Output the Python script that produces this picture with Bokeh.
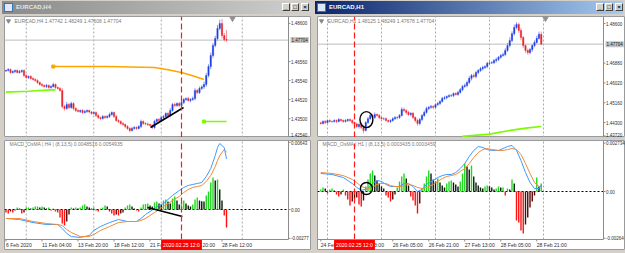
import numpy as np
from bokeh.plotting import figure
from bokeh.layouts import row, column
from bokeh.models import Div, Range1d, Label, ColumnDataSource
from bokeh.embed import file_html
from bokeh.resources import INLINE

FONT = "Liberation Sans"

# ======================= DATA : EURCAD,H4 (left window) =======================
h4_first_open = 1.4605
h4_close = [
    1.4608, 1.4613, 1.4597, 1.4602, 1.4608, 1.4597, 1.4602, 1.4608, 1.4581, 1.4570,
    1.4576, 1.4565, 1.4560, 1.4554, 1.4544, 1.4533, 1.4528, 1.4522, 1.4528, 1.4517,
    1.4522, 1.4533, 1.4517, 1.4512, 1.4501, 1.4415, 1.4405, 1.4426, 1.4410, 1.4431,
    1.4405, 1.4394, 1.4389, 1.4394, 1.4383, 1.4389, 1.4394, 1.4386, 1.4378, 1.4383,
    1.4367, 1.4356, 1.4351, 1.4362, 1.4356, 1.4362, 1.4372, 1.4383, 1.4362, 1.4340,
    1.4335, 1.4324, 1.4319, 1.4308, 1.4298, 1.4287, 1.4298, 1.4303, 1.4298, 1.4308,
    1.4335, 1.4324, 1.4322, 1.4319, 1.4314, 1.4303, 1.4335, 1.4346, 1.4340, 1.4356,
    1.4362, 1.4378, 1.4367, 1.4394, 1.4426, 1.4421, 1.4431, 1.4421, 1.4437, 1.4453,
    1.4458, 1.4447, 1.4453, 1.4458, 1.4501, 1.4490, 1.4512, 1.4520, 1.4533, 1.4581,
    1.4629, 1.4688, 1.4742, 1.4779, 1.4833, 1.4859, 1.4795, 1.4774, 1.4770]
h4_wick_up_pips = [
    5, 8, 6, 7, 5, 6, 9, 5, 7, 6,
    5, 8, 7, 6, 7, 5, 9, 6, 8, 5,
    7, 10, 6, 5, 8, 12, 9, 14, 8, 10,
    7, 6, 9, 5, 7, 8, 6, 6, 5, 7,
    6, 9, 5, 8, 6, 7, 10, 6, 5, 9,
    7, 6, 8, 5, 7, 6, 9, 8, 6, 7,
    10, 6, 7, 8, 5, 7, 9, 6, 8, 10,
    7, 6, 9, 12, 8, 10, 7, 9, 11, 8,
    6, 9, 7, 10, 12, 8, 10, 9, 15, 14,
    12, 16, 13, 15, 18, 20, 25, 14, 51]
h4_wick_dn_pips = [
    6, 5, 7, 6, 8, 5, 6, 7, 9, 6,
    7, 5, 6, 6, 8, 6, 7, 5, 9, 6,
    7, 5, 8, 6, 7, 10, 12, 8, 9, 7,
    10, 8, 6, 9, 7, 5, 8, 7, 6, 7,
    9, 8, 9, 6, 7, 5, 8, 6, 9, 7,
    8, 6, 7, 9, 8, 10, 6, 7, 8, 6,
    9, 7, 8, 8, 6, 9, 7, 6, 8, 7,
    9, 6, 8, 10, 7, 9, 8, 10, 7, 9,
    8, 6, 9, 8, 10, 9, 8, 9, 10, 12,
    10, 14, 12, 10, 12, 10, 15, 12, 9]
h4_osma_e4 = [
    -2.9, -3.8, -1.9, -2.9, -1.0, 1.9, 1.0, -3.8, -2.9, 1.9,
    1.9, 1.0, 1.9, 2.9, 2.9, 1.9, 2.9, 1.9, 1.0, 1.9,
    -1.0, 1.0, -1.9, -2.9, -7.7, -13.4, -15.3, -11.5, -4.8, 1.9,
    1.0, 1.9, 1.0, 1.9, 3.8, 4.8, 2.9, 1.9, 1.0, 1.9,
    -1.0, -1.9, 1.0, 1.9, 3.8, 2.9, -1.9, -3.8, -5.7, -4.8,
    -5.7, -3.8, -2.9, 1.9, 3.8, 4.8, 2.9, 1.0, -1.0, -1.9,
    1.9, 4.8, 5.2, 5.7, 3.8, 2.9, 6.7, 7.7, 5.7, 4.8,
    8.6, 9.6, 7.7, 5.7, 10.5, 12.5, 8.6, 4.8, 6.7, 8.6,
    5.7, 3.8, 2.9, 4.8, 9.6, 11.5, 8.6, 8.0, 7.7, 13.4,
    17.2, 25.9, 30.7, 27.8, 28.7, 19.2, 8.6, -5.7, -17.2]
h4_macd_bar = [0, 6, 12, 18, 23, 25, 27, 29, 33, 37, 39, 42, 46, 50, 54, 58, 60, 62, 64, 66,
               68, 70, 72, 74, 77, 79, 81, 83, 85, 87, 89, 91, 93, 94, 95, 97, 98]
h4_macd_e4 = [-8.6, -9.6, -12.5, -14.4, -14.4, -18.2, -23.0, -25.9, -26.8, -24.9, -20.1, -16.3,
              -12.5, -9.6, -11.5, -11.5, -8.6, -4.8, -1.9, 1.0, 3.8, 5.7, 9.6, 13.4, 18.2, 21.1,
              23.0, 24.0, 24.9, 25.9, 31.6, 39.3, 51.7, 59.4, 63.2, 59.4, 48.5]
h4_signal_e4 = [-8.6, -8.6, -11.5, -13.4, -14.4, -15.3, -19.2, -22.0, -25.9, -25.9, -24.0, -20.1,
                -16.3, -12.5, -11.5, -11.5, -10.5, -8.6, -5.7, -2.9, 0.0, 2.9, 5.7, 8.6, 12.5, 16.3,
                19.2, 21.1, 22.0, 23.0, 26.8, 32.6, 41.2, 46.9, 51.7, 57.5, 54.9]
h4_ma_bar = [21, 45, 66, 72, 78, 83, 88]
h4_ma_price = [1.4629, 1.4629, 1.4624, 1.4612, 1.4597, 1.4580, 1.4560]
h4_green_bar = [0, 10, 20, 22]
h4_green_price = [1.4492, 1.4497, 1.4504, 1.4504]
h4_green2_bar = [88, 98]
h4_green2_price = [1.4335, 1.4335]
h4_trend_bar = [64.2, 78.9]
h4_trend_price = [1.4303, 1.4410]
h4_osc_trend_bar = [62.9, 78.4]
h4_osc_trend_e4 = [1.9, -6.7]
h4_time_labels = ["6 Feb 2020", "11 Feb 04:00", "13 Feb 20:00", "18 Feb 12:00", "21 Fe", "20:00", "28 Feb 12:00"]
h4_time_label_bar = [0, 16, 32, 48, 64, 87.3, 96]
h4_time_tick_bar = [0, 16, 32, 48, 64, 80, 96]
h4_grid_bar = [9, 39, 69, 105]
h4_price_ticks = [1.48600, 1.46560, 1.45540, 1.44520, 1.43500, 1.42540]
h4_osc_ticks = [0.00643, 0.0, -0.00277]
h4_osc_tick_text = ["0.00643", "0.00", "-0.00277"]

# ======================= DATA : EURCAD,H1 (right window) =======================
h1_first_open = 1.4429
h1_close = [
    1.4426, 1.4435, 1.4430, 1.4439, 1.4435, 1.4435, 1.4439, 1.4435, 1.4443, 1.4439,
    1.4435, 1.4439, 1.4443, 1.4439, 1.4430, 1.4424, 1.4413, 1.4422, 1.4409, 1.4396,
    1.4430, 1.4447, 1.4461, 1.4452, 1.4465, 1.4461, 1.4452, 1.4447, 1.4447, 1.4439,
    1.4435, 1.4439, 1.4447, 1.4452, 1.4452, 1.4461, 1.4487, 1.4482, 1.4474, 1.4465,
    1.4470, 1.4452, 1.4439, 1.4426, 1.4443, 1.4461, 1.4474, 1.4491, 1.4496, 1.4500,
    1.4496, 1.4508, 1.4513, 1.4522, 1.4535, 1.4538, 1.4543, 1.4547, 1.4547, 1.4556,
    1.4552, 1.4561, 1.4573, 1.4587, 1.4591, 1.4604, 1.4622, 1.4634, 1.4630, 1.4647,
    1.4656, 1.4664, 1.4669, 1.4673, 1.4687, 1.4689, 1.4690, 1.4699, 1.4704, 1.4713,
    1.4721, 1.4725, 1.4743, 1.4764, 1.4786, 1.4816, 1.4843, 1.4856, 1.4830, 1.4799,
    1.4764, 1.4743, 1.4734, 1.4747, 1.4764, 1.4778, 1.4795, 1.4813, 1.4770]
h1_wick_up_pips = [
    4, 5, 6, 4, 5, 3, 6, 5, 7, 4,
    5, 6, 4, 5, 6, 5, 7, 5, 6, 8,
    6, 7, 8, 6, 9, 5, 6, 7, 5, 6,
    4, 5, 6, 7, 5, 6, 9, 8, 6, 7,
    5, 6, 5, 8, 7, 6, 9, 8, 6, 7,
    5, 6, 7, 5, 6, 8, 5, 6, 7, 5,
    6, 8, 7, 6, 9, 8, 10, 7, 9, 8,
    6, 7, 8, 6, 7, 9, 6, 7, 8, 6,
    7, 9, 10, 12, 14, 10, 12, 9, 8, 10,
    7, 6, 8, 7, 6, 9, 12, 12, 12]
h1_wick_dn_pips = [
    5, 4, 6, 5, 4, 6, 5, 7, 4, 5,
    6, 5, 7, 6, 8, 7, 6, 9, 7, 12,
    5, 6, 5, 7, 6, 5, 8, 6, 7, 5,
    6, 7, 5, 6, 8, 6, 5, 7, 9, 6,
    8, 7, 9, 10, 8, 7, 6, 5, 7, 6,
    8, 5, 6, 7, 5, 6, 8, 5, 6, 7,
    5, 6, 5, 7, 6, 8, 7, 9, 6, 8,
    7, 6, 8, 6, 7, 7, 5, 6, 8, 7,
    6, 5, 7, 6, 8, 7, 9, 8, 10, 12,
    11, 10, 9, 8, 9, 7, 6, 5, 3]
h1_osma_e4 = [
    1.1, 2.3, 1.7, -1.1, 1.1, 1.7, 0.6, -1.7, -2.8, -1.7,
    1.1, -2.3, -4.5, -7.9, -5.7, -4.0, -3.4, -7.3, -8.5, -5.1,
    2.8, 6.8, 10.2, 11.9, 9.0, 6.2, 4.5, 2.8, 1.7, -2.3,
    -3.4, -5.7, -4.5, -1.7, 2.3, 5.7, 8.5, 10.2, 7.3, 3.4,
    -2.8, -5.1, -7.9, -12.4, -6.8, 2.0, 4.5, 8.5, 11.9, 10.2,
    6.8, 5.7, 7.3, 5.1, 3.4, 2.3, 4.5, 5.7, 6.2, 5.1,
    4.0, 2.8, 5.7, 10.2, 15.8, 14.1, 12.4, 14.7, 8.5, 5.1,
    3.4, 2.3, 1.7, 2.8, 3.4, 2.9, 2.3, 1.1, 1.7, 2.8,
    2.3, 2.3, -2.3, 1.7, 1.1, 6.8, 4.5, -16.4, -17.5, -22.0,
    -23.7, -18.6, -14.7, -9.0, -5.7, -2.3, 7.9, 2.8, 4.5]
h1_macd_bar = [0, 5, 10, 14, 16, 18, 21, 23, 25, 27, 29, 31, 33, 35, 37, 39, 41, 43, 45, 47,
               50, 52, 54, 56, 58, 60, 62, 64, 66, 68, 70, 72, 74, 76, 79, 81, 83, 85, 87, 89,
               91, 93, 95, 97, 98]
h1_macd_e4 = [10.2, 9.6, 7.9, 4.5, 2.3, 0.6, 1.7, 4.5, 6.2, 5.7, 4.0, 2.8, 2.8, 2.8, 4.5, 4.5,
              2.8, 0.0, 1.1, 4.0, 6.2, 7.9, 9.0, 9.6, 9.6, 10.7, 13.0, 15.8, 19.8, 23.2, 25.4,
              24.9, 23.7, 23.2, 23.2, 24.3, 25.4, 26.0, 23.2, 17.5, 10.7, 5.1, 1.7, 1.7, 3.4]
h1_signal_e4 = [10.7, 10.2, 9.0, 6.8, 5.1, 2.8, 1.7, 2.3, 4.0, 4.5, 4.5, 3.4, 2.8, 2.8, 3.4, 4.0,
                3.4, 2.3, 1.7, 2.3, 4.0, 5.7, 7.3, 8.5, 9.0, 9.6, 11.3, 13.0, 15.8, 19.2, 22.0,
                23.7, 24.3, 23.7, 23.2, 23.2, 23.7, 24.3, 23.7, 20.9, 15.8, 10.2, 5.1, 2.8, 3.5]
h1_green_bar = [63, 75, 84, 92, 98]
h1_green_price = [1.4370, 1.4380, 1.4396, 1.4407, 1.4413]
h1_time_labels = ["24 Feb", "3:00", "26 Feb 05:00", "26 Feb 21:00", "27 Feb 13:00", "28 Feb 05:00", "28 Feb 21:00"]
h1_time_label_bar = [0, 23.7, 32, 48, 64, 80, 96]
h1_time_tick_bar = [0, 16, 32, 48, 64, 80, 96]
h1_grid_bar = [3, 27, 51, 75, 99]
h1_price_ticks = [1.48600, 1.46880, 1.46020, 1.45160, 1.44300, 1.43720]
h1_osc_ticks = [0.002734, 0.0, -0.00264]
h1_osc_tick_text = ["0.002734", "0.00", "-0.00264"]

# =============================== STYLE / LAYOUT ===============================
BAR_PX = 2.25
UP_BODY, DN_BODY = "#1f3fe0", "#e8232b"
UP_WICK, DN_WICK = "#8797ff", "#ff8f98"
FRAME_GRAY = "#d4d0c8"
AXIS_GRAY = "#8c8c8c"
GRID_GRAY = "#a8a8a8"
RED = "#ff1a1a"


def lbl(p, x, y, text, size="5px", color="#7a7a7a", align="left", **kw):
    p.add_layout(Label(x=x, y=y, text=text, text_font=FONT, text_font_size=size,
                       text_color=color, text_align=align, text_baseline="middle", **kw))


def vsegs(p, xs, y0, y1, **kw):
    n = len(xs)
    p.segment(x0=list(xs), y0=[y0] * n, x1=list(xs), y1=[y1] * n, **kw)


def hsegs(p, ys, x0, x1, **kw):
    n = len(ys)
    p.segment(x0=[x0] * n, y0=list(ys), x1=[x1] * n, y1=list(ys), **kw)


def new_fig(cw, h, xr, yr):
    f = figure(width=cw, height=h, x_range=xr, y_range=yr, output_backend="svg",
               toolbar_location=None, x_axis_location=None, y_axis_location=None,
               min_border=0, outline_line_color="#9a9a9a", background_fill_color="white",
               border_fill_color="white", margin=0)
    f.grid.visible = False
    return f


def build(cfg):
    cw, fw, fx0, xf = cfg["cw"], cfg["fw"], cfg["fx0"], cfg["xf"]
    ax = fx0 + fw                                     # screen x of the price-scale border
    bx = lambda px: (px - xf) / BAR_PX                # screen x -> bar index
    yp = lambda py: cfg["p_ref"] - (py - cfg["p_ref_y"]) * cfg["p_slope"]
    yo = lambda py: (cfg["z_y"] - py) * cfg["o_slope"]
    xr = Range1d(bx(fx0), bx(fx0 + cw))

    # ---------------- price pane ----------------
    p = new_fig(cw, 121, xr, Range1d(yp(137), yp(16)))
    vsegs(p, cfg["grid"], yp(137), yp(16), line_color=GRID_GRAY, line_dash="2 2", line_width=1)
    hsegs(p, [cfg["bid"]], bx(fx0), bx(ax), line_color="#bdbdbd", line_width=1)

    c = np.array(cfg["close"])
    o = np.concatenate([[cfg["open0"]], c[:-1]])
    hi = np.maximum(o, c) + np.array(cfg["wu"]) * 1e-4
    lo = np.minimum(o, c) - np.array(cfg["wd"]) * 1e-4
    up = c >= o
    src = ColumnDataSource(dict(
        i=np.arange(len(c)), hi=hi, lo=lo, top=np.maximum(o, c), bot=np.minimum(o, c),
        body=[UP_BODY if u else DN_BODY for u in up], wick=[UP_WICK if u else DN_WICK for u in up]))
    p.segment(x0="i", y0="lo", x1="i", y1="hi", line_color="wick", line_width=1, source=src)
    p.vbar(x="i", top="top", bottom="bot", width=0.6, fill_color="body", line_color="body",
           line_width=0.4, source=src)
    cfg["overlay"](p)
    vsegs(p, [cfg["red_bar"]], yp(137), yp(16), line_color=RED, line_dash="6 3", line_width=1.2)

    # price scale (right); the lowest label is kept inside the pane like MT4 does
    vsegs(p, [bx(ax)], yp(137), yp(16), line_color=AXIS_GRAY, line_width=1)
    hsegs(p, cfg["price_ticks"], bx(ax), bx(ax + 2), line_color=AXIS_GRAY, line_width=1)
    for t in cfg["price_ticks"]:
        lbl(p, bx(ax + 2.5), max(t, yp(134.3)), "%.5f" % t, size="4.5px", color="#303030")
    lbl(p, bx(ax + 2), cfg["bid"], "%.5f" % cfg["bid"], size="4.5px", color="#202020",
        background_fill_color="#c4c4c4", padding=1)

    # header text + markers
    p.scatter([bx(fx0 + 4)], [yp(20.5)], marker="inverted_triangle", size=4, color="#8a8a8a")
    lbl(p, bx(fx0 + 10), yp(20.5), cfg["header"])
    p.scatter([bx(cfg["shift_x"])], [yp(17.6)], marker="inverted_triangle", size=6, color="#909090")

    # ---------------- oscillator pane ----------------
    m = new_fig(cw, 110, xr, Range1d(yo(250), yo(140)))
    ybot, ytop = yo(239), yo(140)
    vsegs(m, cfg["grid"], ybot, ytop, line_color=GRID_GRAY, line_dash="2 2", line_width=1)
    hsegs(m, [0.0], bx(fx0), bx(ax), line_color="#000000", line_dash="2 2", line_width=1)

    h = np.array(cfg["osma"]) * 1e-4
    prev = np.concatenate([[h[0]], h[:-1]])
    cols = []
    for v, pv in zip(h, prev):
        if v >= 0:
            cols.append("#1ed81e" if v >= pv else "#0a1a0a")
        else:
            cols.append("#ff1010" if v <= pv else "#5a0505")
    m.vbar(x=np.arange(len(h)), top=h, bottom=0, width=0.62, fill_color=cols, line_color=None)
    m.line(cfg["macd_bar"], np.array(cfg["macd"]) * 1e-4, line_color="#3d9bff", line_width=1)
    m.line(cfg["macd_bar"], np.array(cfg["signal"]) * 1e-4, line_color="#f08a3c", line_width=1)
    cfg["osc_overlay"](m)
    vsegs(m, [cfg["red_bar"]], ybot, ytop, line_color=RED, line_dash="6 3", line_width=1.2)
    lbl(m, bx(fx0 + 5), yo(143.5), cfg["osc_header"])

    # oscillator scale (right)
    vsegs(m, [bx(ax)], ybot, ytop, line_color=AXIS_GRAY, line_width=1)
    hsegs(m, cfg["osc_ticks"], bx(ax), bx(ax + 2), line_color=AXIS_GRAY, line_width=1)
    for t, s in zip(cfg["osc_ticks"], cfg["osc_tick_text"]):
        lbl(m, bx(ax + 2.5), min(t, yo(142.8)), s, size="4.5px", color="#303030")

    # time scale (bottom)
    hsegs(m, [ybot], bx(fx0), bx(ax), line_color=AXIS_GRAY, line_width=1)
    vsegs(m, cfg["tick_bars"], ybot, yo(241), line_color=AXIS_GRAY, line_width=1)
    for t, b in zip(cfg["tlabels"], cfg["tlabel_bars"]):
        lbl(m, b, yo(244.5), t, size="5.1px", color="#303030")
    lbl(m, cfg["red_bar"], yo(244.5), "2020.02.25 12:0", size="5.1px", color="#ffffff",
        align="center", background_fill_color="#ff0000", padding=2)

    sep = Div(text="", width=cw, height=3, margin=0, styles={"background-color": "#cfcfcf"})
    return column(p, sep, m, spacing=0, margin=0)


def title_div(width, text, active, btn_x):
    if active:
        grad = "linear-gradient(90deg,#0a246a,#a6caf0)"
        tcol = "#ffffff"
    else:
        grad = "linear-gradient(90deg,#8a8a8a,#d0d0d0)"
        tcol = "#e6e6e6"
    btns = ""
    for bxp, glyph in zip(btn_x, ["_", "\u25a1", "\u00d7"]):
        btns += ('<div style="position:absolute;left:%dpx;top:3px;width:8px;height:8px;background:#d4d0c8;'
                 'border:1px solid;border-color:#ffffff #404040 #404040 #ffffff;box-sizing:border-box;'
                 'font:bold 6px Liberation Sans;line-height:6px;text-align:center;color:#000;">%s</div>' % (bxp, glyph))
    html = ('<div style="position:relative;width:%dpx;height:16px;background:%s;overflow:hidden;">'
            '<div style="position:absolute;left:2px;top:1px;width:%dpx;height:13px;background:%s;"></div>'
            '<div style="position:absolute;left:4px;top:3px;width:9px;height:9px;background:#dfe8f7;border:1px solid #3f6fb5;box-sizing:border-box;"></div>'
            '<div style="position:absolute;left:16px;top:3px;font:bold 6px Liberation Sans;line-height:8px;color:%s;">%s</div>'
            '%s</div>') % (width, FRAME_GRAY, width - 4, grad, tcol, text, btns)
    return Div(text=html, width=width, height=16, margin=0)


def gray(w, h):
    return Div(text="", width=w, height=h, margin=0, styles={"background-color": FRAME_GRAY})


# ----- overlays -----
def h4_overlay(p):
    p.line(h4_ma_bar, h4_ma_price, line_color="#ffa500", line_width=1.6)
    p.scatter(h4_ma_bar[:1], h4_ma_price[:1], marker="square", size=3, color="#ffa500")
    p.line(h4_green_bar, h4_green_price, line_color="#7cfc00", line_width=1.6)
    p.line(h4_green2_bar, h4_green2_price, line_color="#7cfc00", line_width=1.6)
    p.scatter(h4_green2_bar[:1], h4_green2_price[:1], marker="square", size=3, color="#7cfc00")
    p.line(h4_trend_bar, h4_trend_price, line_color="#000000", line_width=1.6)


def h4_osc_overlay(m):
    m.line(h4_osc_trend_bar, np.array(h4_osc_trend_e4) * 1e-4, line_color="#000000", line_width=1.4)


def h1_overlay(p):
    p.line(h1_green_bar, h1_green_price, line_color="#7cfc00", line_width=1.6)
    p.ellipse(x=[20.3], y=[1.4443], width=13, height=16, width_units="screen", height_units="screen",
              fill_color=None, line_color="#000000", line_width=1.4)


def h1_osc_overlay(m):
    m.ellipse(x=[20.3], y=[0.00017], width=12, height=12, width_units="screen", height_units="screen",
              fill_color=None, line_color="#000000", line_width=1.4)


left_cfg = dict(cw=307, fw=284, fx0=4, xf=5.5, p_ref=1.4656, p_ref_y=61, p_slope=0.000535,
                z_y=209, o_slope=0.958e-4, close=h4_close, open0=h4_first_open,
                wu=h4_wick_up_pips, wd=h4_wick_dn_pips, osma=h4_osma_e4, macd_bar=h4_macd_bar,
                macd=h4_macd_e4, signal=h4_signal_e4, grid=h4_grid_bar, bid=1.47704, red_bar=78,
                price_ticks=h4_price_ticks, osc_ticks=h4_osc_ticks, osc_tick_text=h4_osc_tick_text,
                tick_bars=h4_time_tick_bar, tlabels=h4_time_labels, tlabel_bars=h4_time_label_bar,
                header="EURCAD,H4  1.47742 1.48249 1.47608 1.47704",
                osc_header="MACD_OsMA | H4 | (8,13,5)  0.0048516  0.0054935",
                shift_x=232, overlay=h4_overlay, osc_overlay=h4_osc_overlay)
right_cfg = dict(cw=308, fw=286, fx0=317, xf=320.25, p_ref=1.486, p_ref_y=23, p_slope=0.000434,
                 z_y=191, o_slope=0.565e-4, close=h1_close, open0=h1_first_open,
                 wu=h1_wick_up_pips, wd=h1_wick_dn_pips, osma=h1_osma_e4, macd_bar=h1_macd_bar,
                 macd=h1_macd_e4, signal=h1_signal_e4, grid=h1_grid_bar, bid=1.47704, red_bar=15,
                 price_ticks=h1_price_ticks, osc_ticks=h1_osc_ticks, osc_tick_text=h1_osc_tick_text,
                 tick_bars=h1_time_tick_bar, tlabels=h1_time_labels, tlabel_bars=h1_time_label_bar,
                 header="EURCAD,H1  1.48125 1.48249 1.47678 1.47704",
                 osc_header="MACD_OsMA | H1 | (8,13,5)  0.0003435  0.0003459",
                 shift_x=545, overlay=h1_overlay, osc_overlay=h1_osc_overlay)

left_win = column(title_div(313, "EURCAD,H4", False, [282, 291, 301]),
                  row(gray(4, 234), build(left_cfg), gray(2, 234), spacing=0, margin=0),
                  gray(313, 3), spacing=0, margin=0)
right_win = column(title_div(312, "EURCAD,H1", True, [283, 292, 302]),
                   row(gray(4, 234), build(right_cfg), spacing=0, margin=0),
                   gray(312, 3), spacing=0, margin=0)
layout = row(left_win, right_win, spacing=0, margin=0)

open("out.html", "w").write(file_html(layout, INLINE))
